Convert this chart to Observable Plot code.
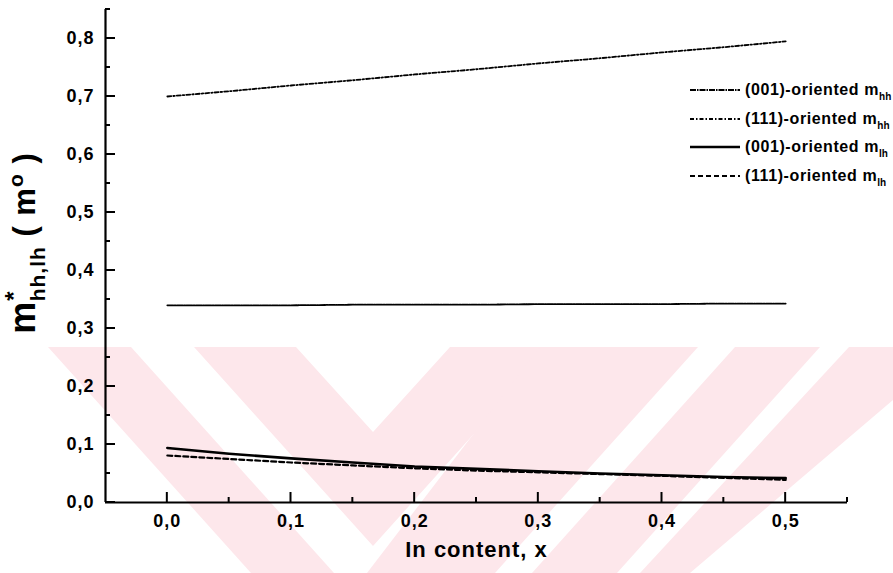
<!DOCTYPE html>
<html><head><meta charset="utf-8">
<script src="https://cdn.jsdelivr.net/npm/d3@7"></script>
<script src="https://cdn.jsdelivr.net/npm/@observablehq/plot@0.6"></script>
<style>
html,body{margin:0;padding:0;background:#fff;}
#wrap{position:relative;width:893px;height:573px;overflow:hidden;font-family:"Liberation Sans",Arial,sans-serif;}
#wrap svg{position:absolute;left:0;top:0;}
</style></head><body><div id="wrap"></div>
<script>
// ---- data ----
const xVals = [0, 0.05, 0.1, 0.15, 0.2, 0.25, 0.3, 0.35, 0.4, 0.45, 0.5];
const mhh001 = [0.340, 0.340, 0.340, 0.341, 0.341, 0.341, 0.342, 0.342, 0.342, 0.343, 0.343];
const mhh111 = [0.700, 0.709, 0.719, 0.728, 0.738, 0.747, 0.757, 0.766, 0.776, 0.785, 0.795];
const mlh001 = [0.094, 0.084, 0.076, 0.069, 0.062, 0.058, 0.054, 0.050, 0.047, 0.044, 0.042];
const mlh111 = [0.081, 0.075, 0.069, 0.064, 0.059, 0.055, 0.052, 0.049, 0.046, 0.0425, 0.039];
const legendLabels = ["(001)-oriented m", "(111)-oriented m", "(001)-oriented m", "(111)-oriented m"];
const legendSubs = ["hh", "hh", "lh", "lh"];
const xTicks = [0, 0.1, 0.2, 0.3, 0.4, 0.5];
const xMinor = [0.05, 0.15, 0.25, 0.35, 0.45, 0.55];
const yTicks = [0, 0.1, 0.2, 0.3, 0.4, 0.5, 0.6, 0.7, 0.8];
const yMinor = [0.05, 0.15, 0.25, 0.35, 0.45, 0.55, 0.65, 0.75, 0.85];
const xTitle = "In content, x";

const styles = [
  {stroke: "#000", strokeWidth: 1.8, strokeDasharray: "6,1,1.5,1"},
  {stroke: "#000", strokeWidth: 1.8, strokeDasharray: "4,2,1.5,2"},
  {stroke: "#000", strokeWidth: 2.6, strokeDasharray: null},
  {stroke: "#000", strokeWidth: 2.2, strokeDasharray: "5,3"}
];
const seriesVals = [mhh001, mhh111, mlh001, mlh111];
const rows = (vals) => xVals.map((x, i) => ({x, y: vals[i]}));

const W = 893, H = 573;
const mL = 105, mR = 46, mT = 9, mB = 71;
const xDom = [-0.05, 0.55], yDom = [0, 0.85];
const wrap = document.getElementById("wrap");

// watermark (background decoration)
const bg = d3.select(wrap).append("svg").attr("width", W).attr("height", H);
const pink = "#fde7eb";
const wm = [
  [[48,347],[131,347],[334,573],[251,573]],
  [[194,347],[296,347],[373,432],[450,347],[552,347],[373,546]],
  [[540,347],[698,347],[495,573],[367,573]],
  [[735,347],[820,347],[617,573],[532,573]],
  [[849,347],[893,347],[893,400],[690,573],[640,573]]
];
bg.selectAll("polygon").data(wm).join("polygon")
  .attr("points", d => d.map(p => p.join(",")).join(" "))
  .attr("fill", pink);

const fmt = d => d.toFixed(1).replace(".", ",");
const chart = Plot.plot({
  width: W, height: H,
  marginLeft: mL, marginRight: mR, marginTop: mT, marginBottom: mB,
  style: {background: "transparent", fontFamily: "'Liberation Sans', Arial, sans-serif", fontSize: "18px", fontWeight: "bold", color: "#000", letterSpacing: "1px"},
  x: {domain: xDom},
  y: {domain: yDom},
  marks: [
    Plot.axisX(xTicks, {tickSize: 0, tickPadding: 12, tickFormat: fmt, label: null}),
    Plot.axisY(yTicks, {tickSize: 0, tickPadding: 11, tickFormat: fmt, label: null}),
    Plot.ruleY([0], {strokeWidth: 2.2}),
    Plot.ruleX([xDom[0]], {strokeWidth: 2.2}),
    ...seriesVals.map((v, i) => Plot.line(rows(v), {x: "x", y: "y", ...styles[i]})),
    Plot.text([xTitle], {frameAnchor: "bottom", dy: 54, fontSize: 22, fontWeight: "bold", letterSpacing: "0px"})
  ]
});
wrap.appendChild(chart);

// overlay: inward ticks (positioned through Plot's scales), y title and legend
const sx = chart.scale("x"), sy = chart.scale("y");
const ov = d3.select(wrap).append("svg").attr("width", W).attr("height", H)
  .style("font-family", "'Liberation Sans', Arial, sans-serif").style("font-weight", "bold");
const x0 = sx.apply(xDom[0]), y0 = sy.apply(yDom[0]);
const tk = ov.append("g");
const tickLine = (xa, ya, xb, yb) => tk.append("path")
  .attr("d", `M${xa},${ya}L${xb},${yb}`).attr("stroke", "#000").attr("stroke-width", 2).attr("fill", "none");
[[xTicks, 10], [xMinor, 5]].forEach(([arr, len]) => arr.forEach(v => {
  const px = sx.apply(v);
  tickLine(px, y0, px, y0 - len);
}));
[[yTicks, 10], [yMinor, 5]].forEach(([arr, len]) => arr.forEach(v => {
  const py = sy.apply(v);
  tickLine(x0, py, x0 + len, py);
}));

const yt = ov.append("text").attr("transform", "translate(35,243) rotate(-90)").attr("text-anchor", "middle").attr("fill", "#000").attr("letter-spacing", "1px");
yt.append("tspan").attr("font-size", 36).text("m");
yt.append("tspan").attr("font-size", 24).attr("dy", -13).text("*");
yt.append("tspan").attr("font-size", 21).attr("dx", -11).attr("dy", 23).text("hh,lh");
yt.append("tspan").attr("font-size", 31).attr("dy", -10).text(" ( m");
yt.append("tspan").attr("font-size", 21).attr("dy", -12).text("o");
yt.append("tspan").attr("font-size", 31).attr("dy", 12).text(" )");

const lg = ov.append("g");
const rowY = [90, 119, 147, 176];
legendLabels.forEach((lab, i) => {
  const y = rowY[i];
  lg.append("line").attr("x1", 690).attr("x2", 740).attr("y1", y).attr("y2", y)
    .attr("stroke", "#000").attr("stroke-width", styles[i].strokeWidth)
    .attr("stroke-dasharray", styles[i].strokeDasharray);
  const t = lg.append("text").attr("x", 745).attr("y", y + 5).attr("font-size", 16).attr("letter-spacing", "0.6px").attr("fill", "#000");
  t.append("tspan").text(lab);
  t.append("tspan").attr("font-size", 10).attr("letter-spacing", "0px").attr("dy", 5).text(legendSubs[i]);
});
</script>
</body></html>
